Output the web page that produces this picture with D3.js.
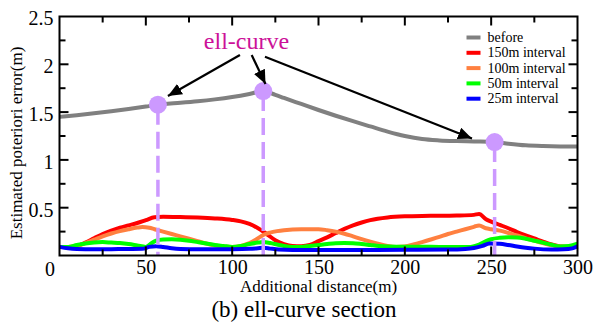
<!DOCTYPE html>
<html>
<head>
<meta charset="utf-8">
<script src="https://cdn.jsdelivr.net/npm/d3@7"></script>
<style>
  body { margin: 0; background: #fff; }
  svg { display: block; }
  text { font-family: "Liberation Serif", "Times New Roman", serif; fill: #000; }
</style>
</head>
<body>
<svg id="chart" width="593" height="325"></svg>
<script>
// Estimated a-posteriori error along the section, [distance (m), error (m)]
const beforeSeries = [[0,1.45],[10,1.468],[20,1.487],[30,1.508],[40,1.532],[50,1.558],[57,1.577],[60,1.583],[70,1.597],[80,1.613],[90,1.633],[100,1.658],[110,1.69],[118,1.72],[125,1.68],[130,1.648],[140,1.585],[150,1.522],[160,1.462],[170,1.405],[180,1.35],[190,1.296],[200,1.25],[210,1.218],[220,1.204],[230,1.197],[240,1.193],[252,1.187],[260,1.17],[270,1.153],[280,1.145],[290,1.141],[300,1.14]];

const interval150 = [[0,0.09],[5,0.09],[10,0.1],[15,0.135],[20,0.18],[25,0.225],[30,0.26],[35,0.29],[40,0.315],[45,0.34],[50,0.37],[55,0.4],[60,0.405],[70,0.402],[80,0.397],[90,0.388],[100,0.372],[105,0.357],[110,0.33],[115,0.285],[120,0.225],[125,0.16],[130,0.12],[135,0.1],[140,0.098],[145,0.11],[150,0.15],[155,0.19],[160,0.235],[165,0.278],[170,0.315],[175,0.345],[180,0.37],[190,0.398],[200,0.41],[210,0.414],[220,0.415],[230,0.418],[240,0.425],[243,0.435],[247,0.38],[250,0.355],[255,0.32],[260,0.285],[265,0.245],[270,0.21],[275,0.178],[280,0.145],[285,0.115],[290,0.095],[295,0.09],[300,0.1]];

const interval100 = [[0,0.09],[5,0.09],[10,0.1],[15,0.13],[20,0.165],[25,0.2],[30,0.23],[35,0.255],[40,0.275],[45,0.292],[48,0.298],[52,0.29],[55,0.275],[60,0.25],[65,0.225],[70,0.2],[75,0.175],[80,0.15],[85,0.125],[90,0.105],[95,0.093],[100,0.09],[105,0.1],[110,0.13],[115,0.18],[118,0.215],[122,0.24],[126,0.255],[130,0.265],[140,0.275],[150,0.275],[155,0.265],[160,0.25],[165,0.228],[170,0.2],[175,0.172],[180,0.145],[185,0.12],[190,0.1],[195,0.09],[200,0.095],[205,0.115],[210,0.14],[215,0.167],[220,0.195],[225,0.225],[230,0.25],[235,0.275],[240,0.3],[243,0.315],[247,0.285],[250,0.275],[255,0.26],[260,0.235],[265,0.21],[270,0.18],[275,0.155],[280,0.13],[285,0.108],[290,0.093],[295,0.09],[300,0.1]];

const interval50 = [[0,0.09],[5,0.09],[10,0.11],[15,0.125],[20,0.135],[25,0.14],[30,0.135],[35,0.13],[40,0.12],[45,0.105],[50,0.09],[53,0.125],[56,0.155],[60,0.168],[65,0.17],[70,0.165],[75,0.155],[80,0.14],[85,0.125],[90,0.11],[95,0.1],[100,0.09],[105,0.1],[110,0.12],[115,0.135],[118,0.14],[122,0.13],[126,0.115],[130,0.1],[135,0.09],[140,0.09],[145,0.1],[150,0.11],[155,0.12],[160,0.128],[165,0.13],[170,0.128],[175,0.12],[180,0.11],[185,0.1],[190,0.095],[200,0.092],[210,0.092],[220,0.09],[230,0.09],[237,0.088],[243,0.115],[247,0.15],[250,0.17],[255,0.185],[260,0.19],[265,0.188],[270,0.175],[275,0.155],[280,0.135],[285,0.112],[290,0.095],[295,0.1],[300,0.125]];

const interval25 = [[0,0.09],[5,0.075],[10,0.068],[20,0.065],[30,0.066],[40,0.068],[48,0.07],[52,0.09],[56,0.098],[60,0.09],[65,0.075],[70,0.068],[80,0.066],[90,0.065],[100,0.066],[110,0.07],[115,0.076],[118,0.08],[122,0.072],[127,0.063],[135,0.058],[150,0.058],[175,0.058],[200,0.06],[225,0.062],[235,0.068],[240,0.078],[245,0.1],[249,0.125],[255,0.122],[260,0.11],[265,0.095],[270,0.082],[275,0.072],[285,0.063],[292,0.065],[297,0.075],[300,0.095]];

const seriesNames  = ["before", "150m interval", "100m interval", "50m interval", "25m interval"];
const seriesColors = ["#808080", "#ff0000", "#ff8040", "#00ff00", "#0000ff"];
const seriesData   = [beforeSeries, interval150, interval100, interval50, interval25];

// ell-curve points on the "before" curve
const ellCurveDist = [57, 118, 252];
const ellCurveErr  = [1.577, 1.72, 1.187];

// annotation: label and arrows (data units)
const labelText = "ell-curve";
const labelPos = [108.3, 2.165];
const arrowFrom = [[104.5, 2.097], [111.3, 2.097], [119, 2.08]];
const arrowTo   = [[62.8, 1.668], [119.3, 1.794], [238.9, 1.224]];

const xTicks = [0, 50, 100, 150, 200, 250, 300];
const yTicks = [0.5, 1, 1.5, 2, 2.5];
const xLabel = "Additional distance(m)";
const yLabel = "Estimated poteriori error(m)";
const caption = "(b) ell-curve section";

const svg = d3.select("#chart");
const m = { left: 59.5, right: 577.5, top: 16.5, bottom: 255.5 };

const x = d3.scaleLinear().domain([0, 300]).range([m.left, m.right]);
const y = d3.scaleLinear().domain([0, 2.5]).range([m.bottom, m.top]);

const defs = svg.append("defs");
defs.append("marker")
  .attr("id", "arrowhead")
  .attr("markerUnits", "userSpaceOnUse")
  .attr("viewBox", "0 0 14 12")
  .attr("markerWidth", 14).attr("markerHeight", 12)
  .attr("refX", 14).attr("refY", 6)
  .attr("orient", "auto")
  .append("path").attr("d", "M0,0 L14,6 L0,12 Z").attr("fill", "#000");

// curves
const line = d3.line().x(d => x(d[0])).y(d => y(d[1])).curve(d3.curveMonotoneX);
const plot = svg.append("g");
seriesData.forEach((s, i) => {
  plot.append("path")
    .attr("d", line(s))
    .attr("fill", "none")
    .attr("stroke", seriesColors[i])
    .attr("stroke-width", 4)
    .attr("stroke-linejoin", "round");
});

// dashed drop lines and ell-curve markers
const ell = svg.append("g");
ellCurveDist.forEach((d, i) => {
  ell.append("line")
    .attr("x1", x(d)).attr("x2", x(d))
    .attr("y1", y(ellCurveErr[i])).attr("y2", y(0))
    .attr("stroke", "#cc99ff")
    .attr("stroke-width", 3.5)
    .attr("stroke-dasharray", "17,7")
    .attr("stroke-dashoffset", -3);
});
ellCurveDist.forEach((d, i) => {
  ell.append("circle")
    .attr("cx", x(d)).attr("cy", y(ellCurveErr[i]))
    .attr("r", 9)
    .attr("fill", "#cc99ff");
});

// frame and ticks
const frame = svg.append("g");
frame.append("rect")
  .attr("x", m.left).attr("y", m.top)
  .attr("width", m.right - m.left).attr("height", m.bottom - m.top)
  .attr("fill", "none").attr("stroke", "#000").attr("stroke-width", 2);

const xMinor = d3.range(25, 300, 25);
const yMinor = d3.range(0.25, 2.5, 0.25);
xMinor.forEach(v => {
  const len = (v % 50 === 0) ? 9 : 6;
  frame.append("line").attr("x1", x(v)).attr("x2", x(v)).attr("y1", m.bottom).attr("y2", m.bottom - len)
    .attr("stroke", "#000").attr("stroke-width", 2);
  frame.append("line").attr("x1", x(v)).attr("x2", x(v)).attr("y1", m.top).attr("y2", m.top + len)
    .attr("stroke", "#000").attr("stroke-width", 2);
});
yMinor.forEach(v => {
  const len = (Math.abs(v * 2 - Math.round(v * 2)) < 1e-6) ? 9 : 6;
  frame.append("line").attr("x1", m.left).attr("x2", m.left + len).attr("y1", y(v)).attr("y2", y(v))
    .attr("stroke", "#000").attr("stroke-width", 2);
  frame.append("line").attr("x1", m.right).attr("x2", m.right - len).attr("y1", y(v)).attr("y2", y(v))
    .attr("stroke", "#000").attr("stroke-width", 2);
});

// tick labels
const xAxis = d3.axisBottom(x).tickValues(xTicks).tickSize(0).tickPadding(4).tickFormat(d3.format("d"));
const gx = svg.append("g").attr("transform", `translate(0,${m.bottom})`).call(xAxis);
gx.select(".domain").remove();
gx.selectAll("text")
  .style("font-family", '"Liberation Serif", serif').style("font-size", "20px").attr("fill", "#000")
  .attr("dx", d => d === 0 ? -10 : 0)
  .attr("y", d => d === 0 ? 6 : 4);

const yAxis = d3.axisLeft(y).tickValues(yTicks).tickSize(0).tickPadding(6).tickFormat(d => d3.format("")(d));
const gy = svg.append("g").attr("transform", `translate(${m.left},0)`).call(yAxis);
gy.select(".domain").remove();
gy.selectAll("text")
  .style("font-family", '"Liberation Serif", serif').style("font-size", "20px").attr("fill", "#000")
  .attr("dy", "0.42em");

// axis titles and caption
svg.append("text")
  .attr("x", (m.left + m.right) / 2).attr("y", 292)
  .attr("text-anchor", "middle").style("font-size", "17px")
  .text(xLabel);
svg.append("text")
  .attr("transform", `translate(22,${(m.top + m.bottom) / 2 + 7}) rotate(-90)`)
  .attr("text-anchor", "middle").style("font-size", "17px")
  .text(yLabel);
svg.append("text")
  .attr("x", 304).attr("y", 317)
  .attr("text-anchor", "middle").style("font-size", "23px")
  .text(caption);

// legend
const legend = svg.append("g").attr("transform", "translate(466.5,37.5)");
seriesNames.forEach((name, i) => {
  const row = legend.append("g").attr("transform", `translate(0,${i * 15.3})`);
  row.append("line").attr("x1", 0).attr("x2", 14).attr("y1", 0).attr("y2", 0)
    .attr("stroke", seriesColors[i]).attr("stroke-width", 4);
  row.append("text").attr("x", 21).attr("y", 4.5).style("font-size", "14px").text(name);
});

// annotation
const ann = svg.append("g");
arrowFrom.forEach((f, i) => {
  ann.append("line")
    .attr("x1", x(f[0])).attr("y1", y(f[1]))
    .attr("x2", x(arrowTo[i][0])).attr("y2", y(arrowTo[i][1]))
    .attr("stroke", "#000").attr("stroke-width", 2.2)
    .attr("marker-end", "url(#arrowhead)");
});
ann.append("text")
  .attr("x", x(labelPos[0])).attr("y", y(labelPos[1]))
  .attr("text-anchor", "middle")
  .style("font-size", "24px")
  .style("fill", "#cc1199")
  .text(labelText);
</script>
</body>
</html>
